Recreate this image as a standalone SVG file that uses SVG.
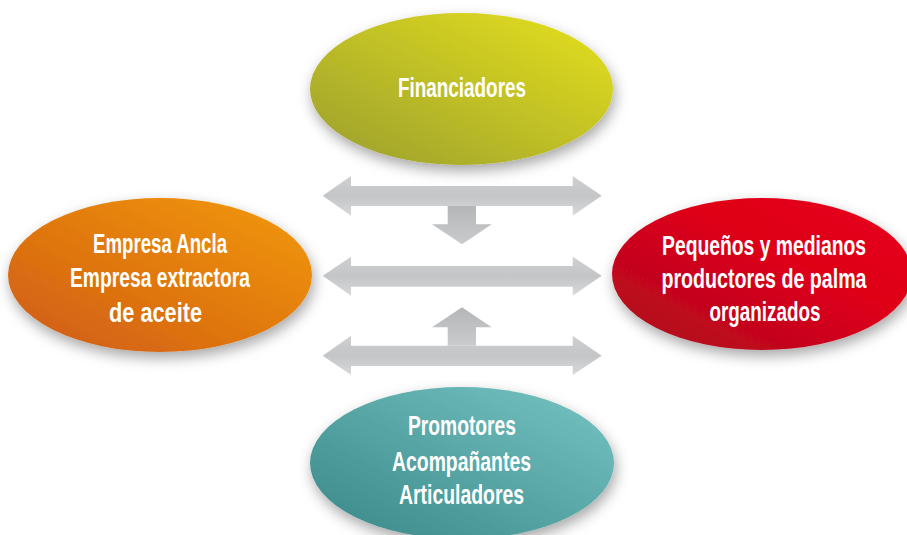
<svg xmlns="http://www.w3.org/2000/svg" width="907" height="535" viewBox="0 0 907 535">
<defs>
<filter id="sh" x="-20%" y="-30%" width="140%" height="160%">
<feDropShadow dx="2" dy="6" stdDeviation="7" flood-color="#000" flood-opacity="0.35"/>
</filter>
<linearGradient id="gY" x1="0" y1="1" x2="1" y2="0"><stop offset="0" stop-color="#9a9e30"/><stop offset="1" stop-color="#e6e11c"/></linearGradient>
<linearGradient id="gO" x1="0" y1="1" x2="1" y2="0"><stop offset="0" stop-color="#cf5a15"/><stop offset="1" stop-color="#f39a0a"/></linearGradient>
<linearGradient id="gR" x1="0" y1="1" x2="1" y2="0"><stop offset="0" stop-color="#a80c1f"/><stop offset="0.6" stop-color="#df0019"/><stop offset="1" stop-color="#e5001a"/></linearGradient>
<linearGradient id="gT" x1="0" y1="1" x2="1" y2="0"><stop offset="0" stop-color="#3a8788"/><stop offset="1" stop-color="#76c5c3"/></linearGradient>
<linearGradient id="gA" x1="0" y1="0" x2="0" y2="1"><stop offset="0" stop-color="#cfd0d2"/><stop offset="0.5" stop-color="#c4c5c7"/><stop offset="1" stop-color="#d8d9da"/></linearGradient>
<linearGradient id="gV" x1="0" y1="0" x2="0" y2="1"><stop offset="0" stop-color="#b5b6b8"/><stop offset="1" stop-color="#cacbcd"/></linearGradient>
</defs>
<style>
.t{font-family:"Liberation Sans",Arial,sans-serif;font-weight:bold;font-size:27px;fill:#fff;text-anchor:middle}
.ar{fill:url(#gA)}
.av{fill:url(#gV)}
</style>
<g id="connectors">
<path class="ar" d="M322.7,195.7 L351,176 L351,186 L572.7,186 L572.7,176 L601.7,195.7 L572.7,215.7 L572.7,206 L351,206 L351,215.7 Z"/>
<path class="av" d="M447.7,206 L476,206 L476,224.3 L491.7,224.3 L462,244.3 L432,224.3 L447.7,224.3 Z"/>
<path class="ar" d="M322.7,275.7 L351,256.7 L351,266 L572.7,266 L572.7,256.7 L601.7,275.7 L572.7,295.7 L572.7,286.7 L351,286.7 L351,295.7 Z"/>
<path class="av" d="M462,307.3 L491.7,327.3 L476,327.3 L476,345.7 L447.7,345.7 L447.7,327.3 L432,327.3 Z"/>
<path class="ar" d="M322.7,355.7 L351,335.7 L351,345.7 L572.7,345.7 L572.7,335.7 L601.7,355.7 L572.7,375 L572.7,366 L351,366 L351,375 Z"/>
</g>
<g id="financiadores">
<ellipse cx="461.5" cy="89" rx="151.5" ry="76" fill="url(#gY)" filter="url(#sh)"/>
<text class="t" x="462" y="97" textLength="128" lengthAdjust="spacingAndGlyphs">Financiadores</text>
</g>
<g id="empresa">
<ellipse cx="160" cy="275" rx="152" ry="77" fill="url(#gO)" filter="url(#sh)"/>
<text class="t" x="160" y="253" textLength="134" lengthAdjust="spacingAndGlyphs">Empresa Ancla</text>
<text class="t" x="160" y="287" textLength="180" lengthAdjust="spacingAndGlyphs">Empresa extractora</text>
<text class="t" x="155.5" y="321.5" textLength="93" lengthAdjust="spacingAndGlyphs">de aceite</text>
</g>
<g id="productores">
<ellipse cx="762" cy="274" rx="150" ry="76" fill="url(#gR)" filter="url(#sh)"/>
<text class="t" x="764" y="255" textLength="204" lengthAdjust="spacingAndGlyphs">Pequeños y medianos</text>
<text class="t" x="764" y="288" textLength="205" lengthAdjust="spacingAndGlyphs">productores de palma</text>
<text class="t" x="765" y="321" textLength="111" lengthAdjust="spacingAndGlyphs">organizados</text>
</g>
<g id="promotores">
<ellipse cx="462" cy="463" rx="152" ry="76" fill="url(#gT)" filter="url(#sh)"/>
<text class="t" x="462" y="435" textLength="108" lengthAdjust="spacingAndGlyphs">Promotores</text>
<text class="t" x="461.5" y="470.5" textLength="139" lengthAdjust="spacingAndGlyphs">Acompañantes</text>
<text class="t" x="461.5" y="503.5" textLength="125" lengthAdjust="spacingAndGlyphs">Articuladores</text>
</g>
</svg>
